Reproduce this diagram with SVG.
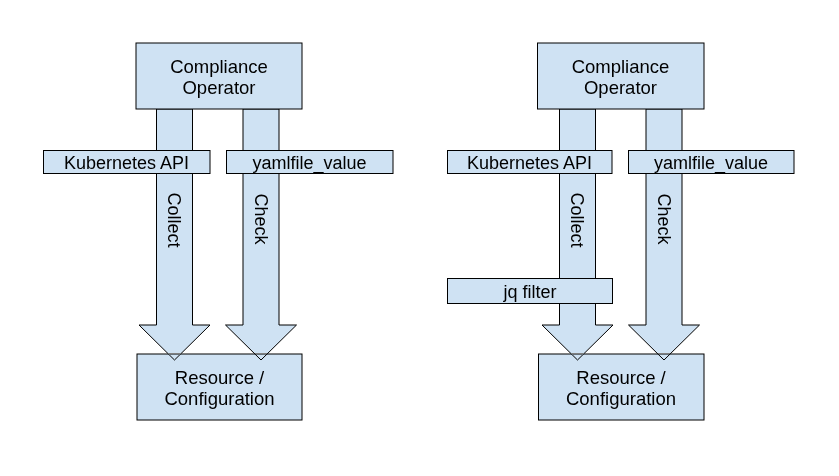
<svg xmlns="http://www.w3.org/2000/svg" width="839" height="476" viewBox="0 0 839 476">
<style>
.box{fill:#cfe2f3;stroke:#000;stroke-width:1}
.arrow{fill:#cfe2f3;stroke:#000;stroke-width:1;mix-blend-mode:darken}
text{font-family:"Liberation Sans",Arial,sans-serif;font-size:18px;fill:#000;text-anchor:middle}
.big{font-size:18.5px}
</style>
<rect width="839" height="476" fill="#fff"/>
<g id="node-resource-left"><rect class="box" x="137" y="354" width="165" height="66"/><text class="big" x="219.5" y="383.5">Resource /</text><text class="big" x="219.5" y="405">Configuration</text></g>
<g id="node-resource-right"><rect class="box" x="538.5" y="354" width="165.5" height="66"/><text class="big" x="621" y="383.5">Resource /</text><text class="big" x="621" y="405">Configuration</text></g>
<g id="connectors">
<path class="arrow" d="M156.5,109 H192.5 V325 H210 L174.5,360 L139,325 H156.5 Z"/>
<path class="arrow" d="M243,109 H279 V325 H296.5 L261,360 L225.5,325 H243 Z"/>
<path class="arrow" d="M559.5,109 H595.5 V325 H613 L577.5,360 L542,325 H559.5 Z"/>
<path class="arrow" d="M646,109 H682 V325 H699.5 L664,360 L628.5,325 H646 Z"/>
<text transform="translate(174.5,220) rotate(90)" y="6.5">Collect</text>
<text transform="translate(261,219) rotate(90)" y="6.5">Check</text>
<text transform="translate(577.5,220) rotate(90)" y="6.5">Collect</text>
<text transform="translate(664,219) rotate(90)" y="6.5">Check</text>
</g>
<g id="node-operator-left"><rect class="box" x="136" y="43" width="166" height="66"/><text class="big" x="219" y="72.5">Compliance</text><text class="big" x="219" y="94">Operator</text></g>
<g id="node-operator-right"><rect class="box" x="537.5" y="43" width="166.5" height="66"/><text class="big" x="620.5" y="72.5">Compliance</text><text class="big" x="620.5" y="94">Operator</text></g>
<g id="node-k8s-left"><rect class="box" x="43.5" y="150.5" width="166.5" height="23"/><text x="126.5" y="169">Kubernetes API</text></g>
<g id="node-yaml-left"><rect class="box" x="226.5" y="150.5" width="166.5" height="23"/><text x="309.5" y="169">yamlfile_value</text></g>
<g id="node-k8s-right"><rect class="box" x="447.5" y="150.5" width="164.5" height="23"/><text x="529.5" y="169">Kubernetes API</text></g>
<g id="node-yaml-right"><rect class="box" x="628.5" y="150.5" width="165.5" height="23"/><text x="711" y="169">yamlfile_value</text></g>
<g id="node-jq-right"><rect class="box" x="447.5" y="278.5" width="165" height="25"/><text x="530" y="297.5">jq filter</text></g>
</svg>
